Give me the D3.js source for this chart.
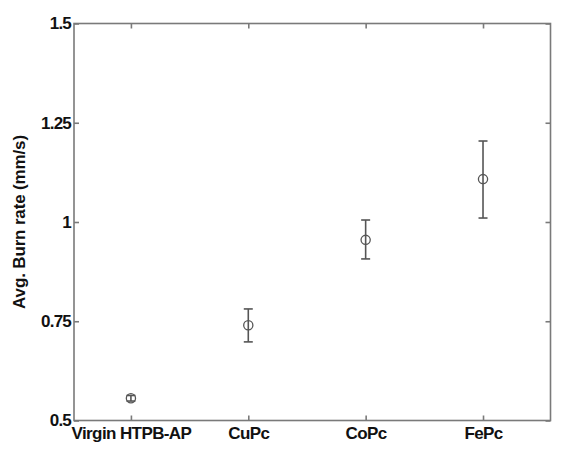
<!DOCTYPE html>
<html>
<head>
<meta charset="utf-8">
<script src="https://cdn.jsdelivr.net/npm/d3@7"></script>
<style>
  html, body { margin: 0; padding: 0; background: #fff; }
  svg { display: block; }
  text { font-family: "Liberation Sans", Arial, sans-serif; font-weight: bold; fill: #111; }
</style>
</head>
<body>
<svg id="chart" width="567" height="457"></svg>
<script>
// ---- data ----
const categories = ["Virgin HTPB-AP", "CuPc", "CoPc", "FePc"];
const meanRate   = [0.556, 0.740, 0.955, 1.108];
const errLow     = [0.549, 0.698, 0.907, 1.010];
const errHigh    = [0.563, 0.781, 1.005, 1.204];
const yTicks     = [0.5, 0.75, 1, 1.25, 1.5];
const yTickLabels = ["0.5", "0.75", "1", "1.25", "1.5"];
const xLimits    = [0.515, 4.575];
const yLimits    = [0.5, 1.5];
const yTitle     = "Avg. Burn rate (mm/s)";

// ---- layout ----
const svg = d3.select("#chart");
const L = 74, R = 550.5, T = 23.5, B = 420.5;

const x = d3.scaleLinear().domain(xLimits).range([L, R]);
const y = d3.scaleLinear().domain(yLimits).range([B, T]);
const xIdx = categories.map((d, i) => i + 1);

const axisColor = "#7a7a7a";
const tickLen = 5;

// box
svg.append("rect")
  .attr("x", L).attr("y", T).attr("width", R - L).attr("height", B - T)
  .attr("fill", "none").attr("stroke", axisColor).attr("stroke-width", 1.6);

// bottom axis
const gB = svg.append("g").attr("transform", `translate(0,${B})`)
  .call(d3.axisBottom(x).tickValues(xIdx).tickFormat((d) => categories[d - 1])
    .tickSizeInner(-tickLen).tickSizeOuter(0).tickPadding(6));
gB.select(".domain").remove();
gB.selectAll(".tick line").attr("stroke", axisColor).attr("stroke-width", 1.6);
gB.selectAll(".tick text").attr("font-size", 17).attr("letter-spacing", -0.6)
  .attr("fill", "#111");

// top axis ticks
const gT = svg.append("g").attr("transform", `translate(0,${T})`)
  .call(d3.axisTop(x).tickValues(xIdx).tickFormat("").tickSizeInner(-tickLen).tickSizeOuter(0));
gT.select(".domain").remove();
gT.selectAll(".tick line").attr("stroke", axisColor).attr("stroke-width", 1.6);

// left axis
const gL = svg.append("g").attr("transform", `translate(${L},0)`)
  .call(d3.axisLeft(y).tickValues(yTicks).tickFormat((d, i) => yTickLabels[i])
    .tickSizeInner(-tickLen).tickSizeOuter(0).tickPadding(3));
gL.select(".domain").remove();
gL.selectAll(".tick line").attr("stroke", axisColor).attr("stroke-width", 1.6);
gL.selectAll(".tick text").attr("font-size", 17).attr("letter-spacing", -0.8)
  .attr("fill", "#111");

// right axis ticks
const gR = svg.append("g").attr("transform", `translate(${R},0)`)
  .call(d3.axisRight(y).tickValues(yTicks).tickFormat("").tickSizeInner(-tickLen).tickSizeOuter(0));
gR.select(".domain").remove();
gR.selectAll(".tick line").attr("stroke", axisColor).attr("stroke-width", 1.6);

// y title
svg.append("text")
  .attr("transform", `translate(25,${(T + B) / 2}) rotate(-90)`)
  .attr("text-anchor", "middle")
  .attr("font-size", 17)
  .attr("letter-spacing", -0.15)
  .text(yTitle);

// error bars
const barColor = "#555";
const capW = 4.5;
const g = svg.append("g");
categories.forEach((c, i) => {
  const cx = x(xIdx[i]);
  g.append("line").attr("x1", cx).attr("x2", cx)
    .attr("y1", y(errLow[i])).attr("y2", y(errHigh[i]))
    .attr("stroke", barColor).attr("stroke-width", 1.6);
  [errLow[i], errHigh[i]].forEach((v) => {
    g.append("line").attr("x1", cx - capW).attr("x2", cx + capW)
      .attr("y1", y(v)).attr("y2", y(v))
      .attr("stroke", barColor).attr("stroke-width", 1.6);
  });
  g.append("circle").attr("cx", cx).attr("cy", y(meanRate[i])).attr("r", 4.6)
    .attr("fill", "none").attr("stroke", barColor).attr("stroke-width", 1.3);
});
</script>
</body>
</html>
